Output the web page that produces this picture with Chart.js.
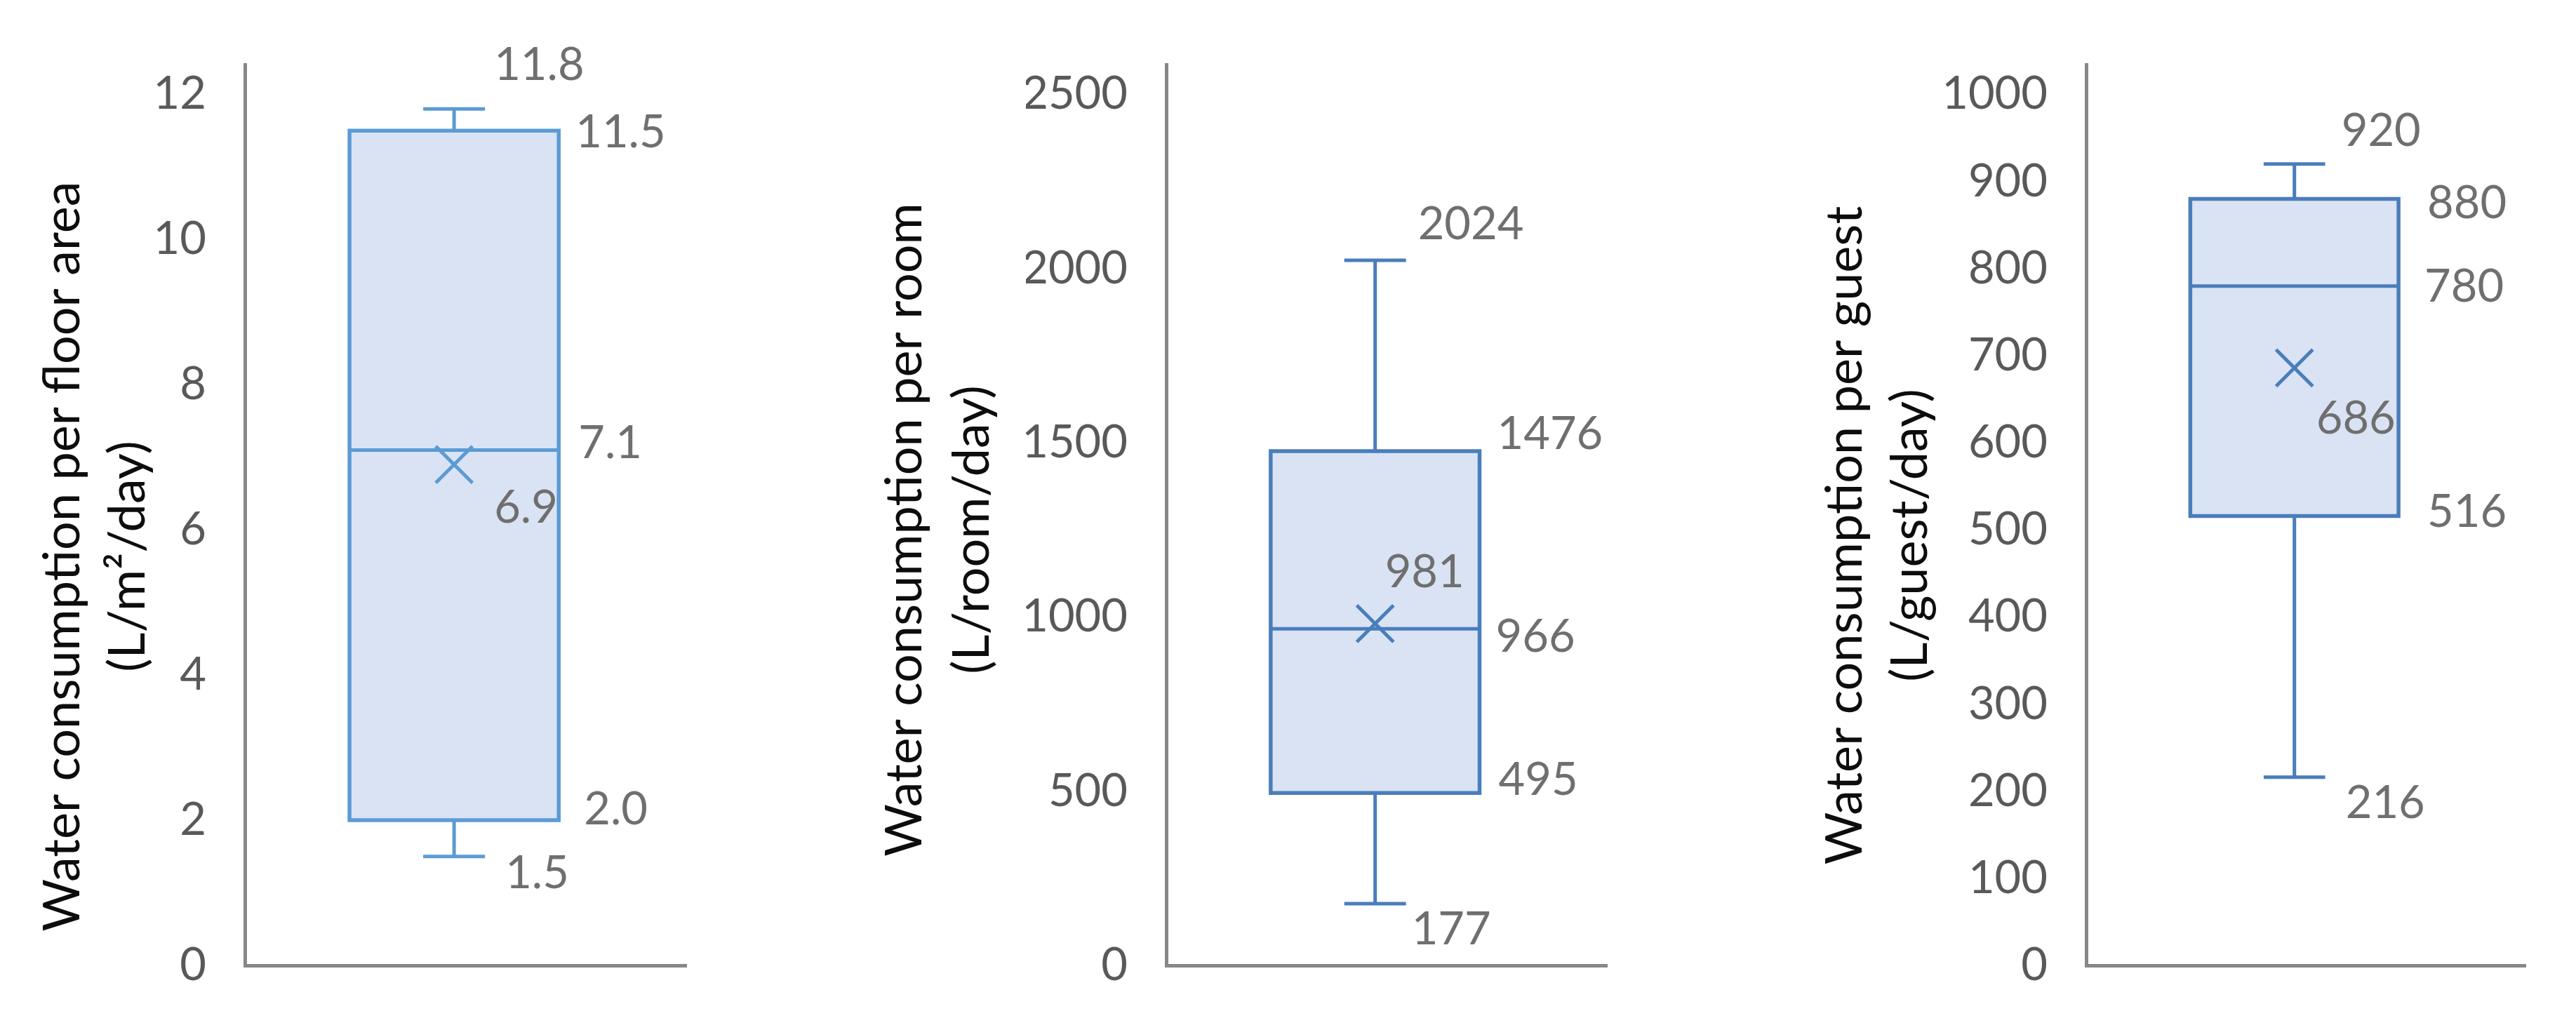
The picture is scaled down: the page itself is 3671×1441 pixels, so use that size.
<!DOCTYPE html>
<html>
<head>
<meta charset="utf-8">
<script src="https://cdn.jsdelivr.net/npm/chart.js@4.4.1/dist/chart.umd.min.js"></script>
<style>
html,body{margin:0;padding:0;background:#ffffff;}
#wrap{position:relative;width:3671px;height:1441px;overflow:hidden;background:#ffffff;}
#wrap canvas{position:absolute;left:0;top:0;}
</style>
</head>
<body>
<div id="wrap">
<canvas id="c0" width="3671" height="1441"></canvas>
<canvas id="c1" width="3671" height="1441"></canvas>
<canvas id="c2" width="3671" height="1441"></canvas>
</div>
<script>
// ---------------- DATA ----------------
const panelNames   = ['per floor area', 'per room', 'per guest'];
const minValues    = [1.5, 177, 216];
const q1Values     = [2.0, 495, 516];
const medianValues = [7.1, 966, 780];
const meanValues   = [6.9, 981, 686];
const q3Values     = [11.5, 1476, 880];
const maxValues    = [11.8, 2024, 920];
const labelDecimals = [1, 0, 0];
const yTicks = [
  [0, 2, 4, 6, 8, 10, 12],
  [0, 500, 1000, 1500, 2000, 2500],
  [0, 100, 200, 300, 400, 500, 600, 700, 800, 900, 1000]
];
const titleLine1 = ['Water consumption per floor area', 'Water consumption per room', 'Water consumption per guest'];
const titleLine2 = ['(L/m\u00B2/day)', '(L/room/day)', '(L/guest/day)'];

// ---------------- STYLE / LAYOUT ----------------
const W = 3671, H = 1441;
const AREA_TOP = 92, AREA_BOTTOM = 1376;
const TOP_TICK_PX = 134.5;
const areaLeft  = [349, 1662, 2973];
const areaRight = [978, 2290, 3599];
const Y_WIDTH = 200;
const BOX_CENTER = 0.474, BOX_HALF = 0.237, CAP_HALF = 0.07;
const boxColors = ['#5B9BD5', '#4A7EBB', '#4A7EBB'];
const BOX_FILL = '#DAE3F3';
const AXIS_COLOR = '#878787';
const TICK_COLOR = '#595959';
const LABEL_COLOR = '#6F6F6F';
const TITLE_COLOR = '#0D0D0D';
const NUM_FONT = 'Lato';
const NUM_SIZE = 65;
const TITLE_SIZE = 72;
const titleX1 = [90, 1290, 2630];
const titleX2 = [183, 1386, 2723];
const titleYc = [793, 755, 763];
// label placement for [min, q1, median, mean, q3, max]: [anchor, dx, dy]
const labelPlace = [
  [['c', 73, 24], ['r', 36, -15], ['r', 28, -9], ['c', 57, 62], ['r', 24, 3], ['c', 57, -62]],
  [['c', 52, 37], ['r', 27, -18], ['r', 23, 12], ['c', 14, -73], ['r', 25, -24], ['c', 61, -51]],
  [['c', 73, 37], ['r', 41, -5], ['r', 37, 1], ['c', 31, 73], ['r', 41, 7], ['c', 67, -47]]
];

function axisMax(i) {
  const top = yTicks[i][yTicks[i].length - 1];
  return top * (AREA_BOTTOM - AREA_TOP) / (AREA_BOTTOM - TOP_TICK_PX);
}

function makeDatasets(i) {
  const c = boxColors[i];
  const x0 = BOX_CENTER - BOX_HALF, x1 = BOX_CENTER + BOX_HALF;
  const xc = BOX_CENTER;
  const base = {
    type: 'line', borderColor: c, borderWidth: 5, pointRadius: 0, pointHoverRadius: 0,
    fill: false, tension: 0, borderCapStyle: 'butt', borderJoinStyle: 'miter', clip: false
  };
  const line = (pts, order, extra) => Object.assign({}, base, {data: pts, order: order}, extra || {});
  return [
    line([{x: x0, y: q1Values[i]}, {x: x1, y: q1Values[i]}], 10, {borderColor: 'rgba(0,0,0,0)', borderWidth: 0}),
    line([{x: x0, y: q3Values[i]}, {x: x1, y: q3Values[i]}], 9, {borderColor: 'rgba(0,0,0,0)', borderWidth: 0, fill: '-1', backgroundColor: BOX_FILL}),
    line([{x: xc, y: q3Values[i]}, {x: xc, y: maxValues[i]}], 6),
    line([{x: xc - CAP_HALF, y: maxValues[i]}, {x: xc + CAP_HALF, y: maxValues[i]}], 6),
    line([{x: xc, y: q1Values[i]}, {x: xc, y: minValues[i]}], 6),
    line([{x: xc - CAP_HALF, y: minValues[i]}, {x: xc + CAP_HALF, y: minValues[i]}], 6),
    line([{x: xc, y: q1Values[i]}, {x: x1, y: q1Values[i]}, {x: x1, y: q3Values[i]},
          {x: x0, y: q3Values[i]}, {x: x0, y: q1Values[i]}, {x: xc, y: q1Values[i]}], 4, {borderWidth: 5.5}),
    line([{x: x0, y: medianValues[i]}, {x: x1, y: medianValues[i]}], 3),
    {
      type: 'line', order: 1, showLine: false, data: [{x: xc, y: meanValues[i]}],
      pointStyle: 'crossRot', pointRadius: 37, pointHoverRadius: 37,
      pointBorderWidth: 5, borderColor: c, backgroundColor: c, pointBorderColor: c, clip: false
    }
  ];
}

const annotatePlugin = {
  id: 'boxAnnotate',
  afterDraw(chart) {
    const i = chart.options.plugins.boxAnnotate.panel;
    const ctx = chart.ctx;
    const xs = chart.scales.x, ys = chart.scales.y;
    const cx = xs.getPixelForValue(BOX_CENTER);
    const rx = xs.getPixelForValue(BOX_CENTER + BOX_HALF);
    const vals = [minValues[i], q1Values[i], medianValues[i], meanValues[i], q3Values[i], maxValues[i]];
    ctx.save();
    ctx.font = NUM_SIZE + 'px ' + NUM_FONT;
    ctx.fillStyle = LABEL_COLOR;
    ctx.textAlign = 'left';
    ctx.textBaseline = 'middle';
    vals.forEach((v, k) => {
      const p = labelPlace[i][k];
      const ax = p[0] === 'c' ? cx : rx;
      ctx.fillText(v.toFixed(labelDecimals[i]), ax + p[1], ys.getPixelForValue(v) + p[2]);
    });
    // axis titles (two lines, rotated)
    ctx.fillStyle = TITLE_COLOR;
    ctx.font = TITLE_SIZE + 'px Lato';
    ctx.textAlign = 'center';
    [[titleLine1[i], titleX1[i]], [titleLine2[i], titleX2[i]]].forEach(([t, x]) => {
      ctx.save();
      ctx.translate(x, titleYc[i]);
      ctx.rotate(-Math.PI / 2);
      ctx.fillText(t, 0, 0);
      ctx.restore();
    });
    ctx.restore();
  }
};

function build() {
  for (let i = 0; i < 3; i++) {
    new Chart(document.getElementById('c' + i), {
      type: 'line',
      data: {datasets: makeDatasets(i)},
      plugins: [annotatePlugin],
      options: {
        responsive: false,
        animation: false,
        events: [],
        layout: {padding: {left: areaLeft[i] - Y_WIDTH, right: W - areaRight[i], top: AREA_TOP, bottom: 0}},
        plugins: {legend: {display: false}, tooltip: {enabled: false}, boxAnnotate: {panel: i}},
        scales: {
          x: {
            type: 'linear', min: 0, max: 1,
            ticks: {display: false},
            grid: {display: false, drawTicks: false},
            border: {display: true, color: AXIS_COLOR, width: 5},
            afterFit: (s) => { s.height = H - AREA_BOTTOM; }
          },
          y: {
            type: 'linear', min: 0, max: axisMax(i), bounds: 'data',
            grid: {display: false, drawTicks: false},
            border: {display: true, color: AXIS_COLOR, width: 5},
            ticks: {
              padding: 55, color: TICK_COLOR, font: {family: NUM_FONT, size: NUM_SIZE},
              includeBounds: false,
              callback: (v) => String(v)
            },
            afterBuildTicks: (s) => { s.ticks = yTicks[i].map(v => ({value: v})); },
            afterFit: (s) => { s.width = Y_WIDTH; s.paddingTop = 0; s.paddingBottom = 0; }
          }
        }
      }
    });
  }
}

if (document.fonts && document.fonts.load) {
  Promise.all([document.fonts.load('65px Lato'), document.fonts.load('72px Lato')]).then(build, build);
} else {
  build();
}
</script>
</body>
</html>
